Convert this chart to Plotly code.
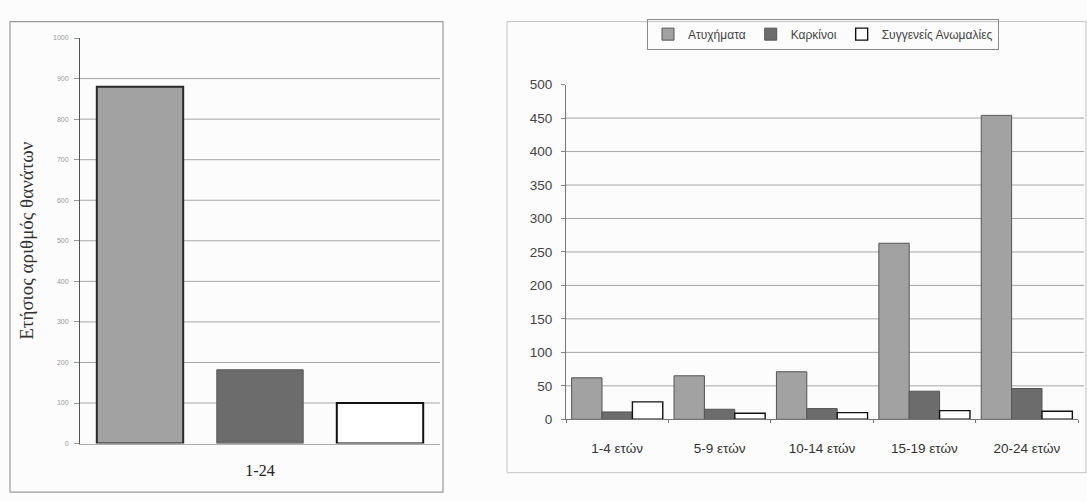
import plotly.graph_objects as go

# Left panel: annual deaths, ages 1-24, by cause
left_category = ["1-24"]
left_names = ["Ατυχήματα", "Καρκίνοι", "Συγγενείς Ανωμαλίες"]
left_values = [880, 182, 100]
left_ticks = [0, 100, 200, 300, 400, 500, 600, 700, 800, 900, 1000]

# Right panel: deaths by age group and cause
age_groups = ["1-4 ετών", "5-9 ετών", "10-14 ετών", "15-19 ετών", "20-24 ετών"]
accidents = [62, 65, 71, 263, 454]
cancers = [11, 15, 16, 42, 46]
congenital = [26, 9, 10, 13, 12]
right_ticks = [0, 50, 100, 150, 200, 250, 300, 350, 400, 450, 500]

W, H = 1087, 502
px = lambda v: v / W
py = lambda v: 1 - v / H

fills = ["#a2a2a2", "#6c6c6c", "#ffffff"]
edges = ["#2a2a2a", "#5a5a5a", "#111111"]

fig = go.Figure()

# left bars, placed side by side inside the single category
slot = 1 / 3
bw = 0.24
for k, (name, val) in enumerate(zip(left_names, left_values)):
    fig.add_trace(go.Bar(
        x=left_category, y=[val], name=name, showlegend=False,
        width=bw, offset=-0.5 + k * slot + (slot - bw) / 2,
        marker=dict(color=fills[k], line=dict(color=edges[k], width=2 if k != 1 else 1)),
        xaxis="x", yaxis="y",
    ))

# right grouped bars
for k, (name, vals) in enumerate(zip(left_names, [accidents, cancers, congenital])):
    fig.add_trace(go.Bar(
        x=age_groups, y=vals, name=name,
        marker=dict(color=fills[k], line=dict(color="#555555" if k != 2 else "#111111",
                                              width=1 if k != 2 else 1.4)),
        xaxis="x2", yaxis="y2",
    ))

shapes = []
# horizontal grid lines (none at the top tick)
for v in left_ticks[1:-1]:
    shapes.append(dict(type="line", xref="x domain", yref="y", x0=0, x1=1, y0=v, y1=v,
                       line=dict(color="#a6a6a6", width=1), layer="below"))
for v in right_ticks[1:-1]:
    shapes.append(dict(type="line", xref="x2 domain", yref="y2", x0=0, x1=1.012, y0=v, y1=v,
                       line=dict(color="#a6a6a6", width=1), layer="below"))
# panel frames
shapes.append(dict(type="rect", xref="paper", yref="paper",
                   x0=px(10), x1=px(443), y0=py(500), y1=py(15),
                   line=dict(color="#9a9a9a", width=1.2)))
shapes.append(dict(type="rect", xref="paper", yref="paper",
                   x0=px(507), x1=px(1086), y0=py(480), y1=py(15),
                   line=dict(color="#c4c4c4", width=1)))

fig.update_layout(
    width=W, height=H,
    margin=dict(l=0, r=0, t=0, b=0),
    paper_bgcolor="#fcfcfc", plot_bgcolor="rgba(0,0,0,0)",
    barmode="group", bargap=0.11, bargroupgap=0.0,
    showlegend=True,
    legend=dict(orientation="h", x=px(823), xanchor="center", y=py(12), yanchor="top",
                bgcolor="rgba(0,0,0,0)", bordercolor="#8a8a8a", borderwidth=1,
                font=dict(family="Liberation Sans", size=12, color="#444444"),
                itemwidth=30, tracegroupgap=0),
    xaxis=dict(domain=[px(80), px(440)], range=[-0.5, 0.5], showgrid=False,
               showline=True, linecolor="#b0b0b0", linewidth=1, ticks="",
               tickfont=dict(family="Liberation Serif", size=16, color="#222222"),
               ticklabelstandoff=12),
    yaxis=dict(domain=[1 - 450 / H, 1 - 32 / H], range=[0, 1000],
               tickvals=left_ticks, showgrid=False, zeroline=False,
               showline=True, linecolor="#555555", linewidth=1,
               ticks="outside", ticklen=5, tickcolor="#999999",
               tickfont=dict(family="Liberation Sans", size=7, color="#999999"),
               ticklabelstandoff=4),
    xaxis2=dict(domain=[px(566), px(1078)], anchor="y2", showgrid=False,
                showline=True, linecolor="#777777", linewidth=1,
                ticks="outside", tickson="boundaries", ticklen=3, tickcolor="#777777",
                tickfont=dict(family="Liberation Sans", size=13.5, color="#333333"),
                ticklabelstandoff=16),
    yaxis2=dict(domain=[1 - 425 / H, 1 - 80 / H], range=[0, 500], anchor="x2",
                tickvals=right_ticks, showgrid=False, zeroline=False,
                showline=True, linecolor="#777777", linewidth=1,
                ticks="outside", ticklen=4, tickcolor="#888888",
                tickfont=dict(family="Liberation Sans", size=13.5, color="#444444"),
                ticklabelstandoff=6),
    shapes=shapes,
    annotations=[dict(text="Ετήσιος αριθμός θανάτων", xref="paper", yref="paper",
                      x=px(27), y=py(241), xanchor="center", yanchor="middle",
                      textangle=-90, showarrow=False,
                      font=dict(family="Liberation Serif", size=19, color="#333333"))],
)
fig.update_xaxes(fixedrange=True)
fig.write_html("out.html")
